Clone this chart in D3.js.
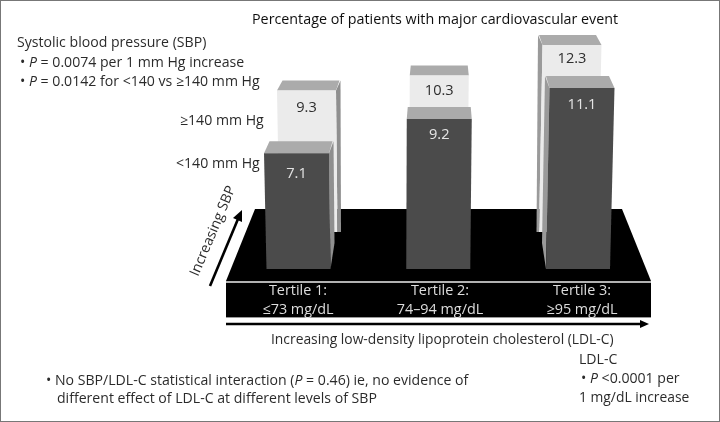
<!DOCTYPE html>
<html><head><meta charset="utf-8">
<script src="https://cdn.jsdelivr.net/npm/d3@7/dist/d3.min.js"></script>
<style>html,body{margin:0;background:#fff}svg{display:block}text{font-family:"Open Sans",sans-serif;font-size:14.1px;fill:#2c2c2c}</style>
</head><body><svg id="c" width="720" height="422"></svg>
<script>
const tertiles=["Tertile 1:","Tertile 2:","Tertile 3:"];
const ranges=["≤73 mg/dL","74–94 mg/dL","≥95 mg/dL"];
const lowSBP=[7.1,9.2,11.1];
const highSBP=[9.3,10.3,12.3];
const W=720,H=422;
const svg=d3.select("#c");
const defs=svg.append("defs");
defs.append("filter").attr("id","soft").append("feGaussianBlur").attr("stdDeviation",0.45);
const g=svg.append("g").attr("filter","url(#soft)");
const line=d3.line();
const poly=(pts,fill)=>g.append("path").attr("d",line(pts)+"Z").attr("fill",fill);

// Scales
const xFront=d3.scalePoint().domain(tertiles).range([296.5,582]);
const xBack=d3.scalePoint().domain(tertiles).range([306.5,572]);
const xLabel=d3.scalePoint().domain(tertiles).range([298,582]);
const lean=d3.scalePoint().domain(tertiles).range([2,-4]);
const depth=d3.scalePoint().domain(tertiles).range([4.5,-4.5]);
const yFront=d3.scaleLinear().domain([0,11.1]).range([269,88]);
const yBack=d3.scaleLinear().domain([0,12.3]).range([232,45]);

// Platform
poly([[255,209],[622,209],[651,281],[226,281]],"#000");
g.append("rect").attr("x",226).attr("y",283).attr("width",425).attr("height",34).attr("fill","#000");
g.append("line").attr("x1",226).attr("x2",651).attr("y1",282).attr("y2",282).attr("stroke","#999").attr("stroke-width",1.4);
g.append("line").attr("x1",226).attr("x2",651).attr("y1",317.5).attr("y2",317.5).attr("stroke","#999").attr("stroke-width",1);

function bars(vals,x,y,w,topH,frontFill,labelFill,dys,taper){
  vals.forEach((v,i)=>{
    const t=tertiles[i],cx=x(t),top=y(v),base=y(0),d=depth(t),l=lean(t);
    const x0=cx-w/2,x1=cx+w/2,b0=cx+l-w/2+.5,b1=cx+l+w/2-.5;
    const sr=taper?[[x1+d+1,base-26],[b1,base]]:[[b1+3.5,base],[b1,base]];
    const sl=taper?[[x0+d-3,base-26],[b0,base]]:[[b0-2.5,base],[b0,base]];
    // side face
    if(d>1) poly([[x1,top],[x1+d,top-topH],...sr],"#8f8f8f");
    if(d<-1) poly([[x0,top],[x0+d,top-topH],...sl],"#9a9a9a");
    // top face
    poly([[x0,top],[x1,top],[x1+d-1,top-topH],[x0+d+1,top-topH]],"#ababab");
    // front face
    poly([[x0,top],[x1,top],[b1,base],[b0,base]],frontFill);
    g.append("text").attr("x",cx).attr("y",top+dys[i]).attr("text-anchor","middle").style("fill",labelFill).style("font-size","14.6px").text(v.toFixed(1));
  });
}
bars(highSBP,xBack,yBack,59,10,"#ebebeb","#2e2e2e",[21,20,18],false);
bars(lowSBP,xFront,yFront,65,12,"#4c4c4c","#e4e4e4",[25,20,21],true);

// Band labels
tertiles.forEach((t,i)=>{
  g.append("text").attr("x",xLabel(t)).attr("y",295).attr("text-anchor","middle").style("fill","#ddd").style("font-size","14.4px").text(t);
  g.append("text").attr("x",xLabel(t)).attr("y",314).attr("text-anchor","middle").style("fill","#ddd").style("font-size","14.4px").text(ranges[i]);
});

// Arrows
g.append("line").attr("x1",226).attr("x2",642).attr("y1",324).attr("y2",324).attr("stroke","#000").attr("stroke-width",2.6);
poly([[649,324],[640,320],[640,328]],"#000");
g.append("line").attr("x1",210).attr("y1",286).attr("x2",238).attr("y2",219).attr("stroke","#000").attr("stroke-width",2.6);
poly([[242,210],[233,218],[242,222]],"#000");

// Text
function txt(x,y,parts){
  const e=g.append("text").attr("x",x).attr("y",y);
  parts.forEach(p=>{const s=e.append("tspan").text(p.t||p);if(p.i)s.style("font-style","italic");});
  return e;
}
txt(252,24,["Percentage of patients with major cardiovascular event"]).style("font-size","14.3px").style("fill","#111");
txt(17,47,["Systolic blood pressure (SBP)"]);
txt(20,67,["•",{t:" P",i:1}," = 0.0074 per 1 mm Hg increase"]);
txt(20,86,["•",{t:" P",i:1}," = 0.0142 for <140 vs ≥140 mm Hg"]);
txt(180,125,["≥140 mm Hg"]);
txt(176,168,["<140 mm Hg"]);
txt(271,344,["Increasing low-density lipoprotein cholesterol (LDL-C)"]).style("font-size","13.85px");
txt(579,364,["LDL-C"]);
txt(581,383,["•",{t:" P",i:1}," <0.0001 per"]);
txt(579,402,["1 mg/dL increase"]).style("font-size","13.85px");
txt(46,385,["•  No SBP/LDL-C statistical interaction (",{t:"P",i:1}," = 0.46) ie, no evidence of"]);
txt(57,403,["different effect of LDL-C at different levels of SBP"]);
g.append("text").attr("transform","translate(198,277) rotate(-67)").text("Increasing SBP");

svg.append("rect").attr("x",.5).attr("y",.5).attr("width",W-1).attr("height",H-1).attr("fill","none").attr("stroke","#777");
</script></body></html>
